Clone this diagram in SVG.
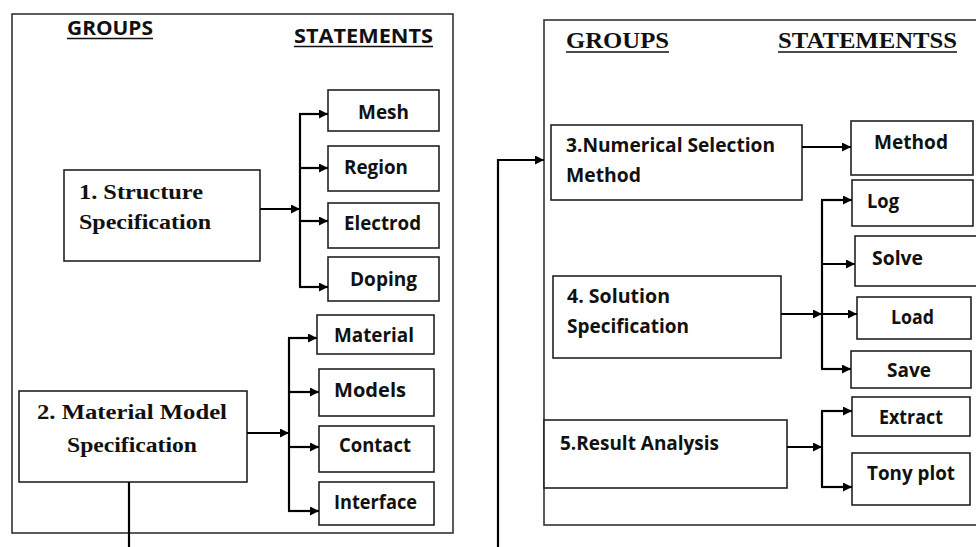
<svg xmlns="http://www.w3.org/2000/svg" width="976" height="547" viewBox="0 0 976 547">
<defs>
<marker id="ah" viewBox="0 0 10 10" refX="10" refY="5" markerWidth="11" markerHeight="9" markerUnits="userSpaceOnUse" orient="auto">
<path d="M0,0 L10,5 L0,10 z" fill="#000"/>
</marker>
<style>
.panel{fill:#fff;stroke:#333;stroke-width:1.6}
.box{fill:#fff;stroke:#222;stroke-width:1.6}
.c{fill:none;stroke:#000;stroke-width:2.2}
.ca{fill:none;stroke:#000;stroke-width:2.2;marker-end:url(#ah)}
.s{font-family:"Open Sans","Liberation Sans",sans-serif;font-weight:bold;font-size:20px;fill:#111}
.f{font-family:"Liberation Serif","DejaVu Serif",serif;font-weight:bold;fill:#111}
.ul{stroke:#111;stroke-width:1.6}
</style>
</defs>
<rect width="976" height="547" fill="#fff"/>
<g id="panel-left">
<rect class="panel" x="12" y="14" width="441" height="519"/>
<text class="s" x="67" y="35" font-size="18" textLength="86" lengthAdjust="spacingAndGlyphs">GROUPS</text>
<line class="ul" x1="67" y1="38.5" x2="153" y2="38.5"/>
<text class="s" x="294" y="43" font-size="18" textLength="139" lengthAdjust="spacingAndGlyphs">STATEMENTS</text>
<line class="ul" x1="294" y1="46.5" x2="433" y2="46.5"/>
</g>
<g id="panel-right">
<rect class="panel" x="544" y="20" width="440" height="505"/>
<text class="f" x="566" y="48" font-size="24" textLength="103" lengthAdjust="spacingAndGlyphs">GROUPS</text>
<line class="ul" x1="566" y1="52" x2="669" y2="52"/>
<text class="f" x="778" y="48" font-size="24" textLength="179" lengthAdjust="spacingAndGlyphs">STATEMENTSS</text>
<line class="ul" x1="778" y1="52" x2="957" y2="52"/>
</g>
<g id="structure">
<rect class="box" x="64" y="170" width="196" height="91"/>
<text class="f" x="79" y="199" font-size="22" textLength="124" lengthAdjust="spacingAndGlyphs">1. Structure</text>
<text class="f" x="79" y="229" font-size="22" textLength="132" lengthAdjust="spacingAndGlyphs">Specification</text>
</g>
<g id="mesh"><rect class="box" x="328" y="90" width="111" height="41"/><text class="s" x="358" y="119" textLength="51" lengthAdjust="spacingAndGlyphs">Mesh</text></g>
<g id="region"><rect class="box" x="328" y="146" width="111" height="45"/><text class="s" x="344" y="174" textLength="64" lengthAdjust="spacingAndGlyphs">Region</text></g>
<g id="electrod"><rect class="box" x="328" y="203" width="111" height="45"/><text class="s" x="344" y="230" textLength="77" lengthAdjust="spacingAndGlyphs">Electrod</text></g>
<g id="doping"><rect class="box" x="328" y="257" width="111" height="44"/><text class="s" x="350" y="286" textLength="67" lengthAdjust="spacingAndGlyphs">Doping</text></g>
<g id="material-model">
<rect class="box" x="19" y="391" width="228" height="91"/>
<text class="f" x="37" y="419" font-size="22" textLength="190" lengthAdjust="spacingAndGlyphs">2. Material Model</text>
<text class="f" x="67" y="452" font-size="22" textLength="130" lengthAdjust="spacingAndGlyphs">Specification</text>
</g>
<g id="material"><rect class="box" x="317" y="315" width="117" height="39"/><text class="s" x="334" y="342" textLength="80" lengthAdjust="spacingAndGlyphs">Material</text></g>
<g id="models"><rect class="box" x="319" y="369" width="115" height="47"/><text class="s" x="334" y="397" textLength="72" lengthAdjust="spacingAndGlyphs">Models</text></g>
<g id="contact"><rect class="box" x="319" y="426" width="115" height="46"/><text class="s" x="339" y="452" textLength="72" lengthAdjust="spacingAndGlyphs">Contact</text></g>
<g id="interface"><rect class="box" x="319" y="482" width="115" height="43"/><text class="s" x="334" y="509" textLength="83" lengthAdjust="spacingAndGlyphs">Interface</text></g>
<g id="numerical">
<rect class="box" x="551" y="125" width="251" height="75"/>
<text class="s" x="566" y="152" textLength="209" lengthAdjust="spacingAndGlyphs">3.Numerical Selection</text>
<text class="s" x="566" y="182" textLength="75" lengthAdjust="spacingAndGlyphs">Method</text>
</g>
<g id="method"><rect class="box" x="851" y="121" width="122" height="54"/><text class="s" x="874" y="149" textLength="74" lengthAdjust="spacingAndGlyphs">Method</text></g>
<g id="solution">
<rect class="box" x="553" y="276" width="228" height="82"/>
<text class="s" x="567" y="303" textLength="103" lengthAdjust="spacingAndGlyphs">4. Solution</text>
<text class="s" x="567" y="333" textLength="122" lengthAdjust="spacingAndGlyphs">Specification</text>
</g>
<g id="log"><rect class="box" x="852" y="180" width="121" height="46"/><text class="s" x="867" y="208" textLength="32" lengthAdjust="spacingAndGlyphs">Log</text></g>
<g id="solve"><rect class="box" x="855" y="236" width="130" height="50"/><text class="s" x="872" y="265" textLength="51" lengthAdjust="spacingAndGlyphs">Solve</text></g>
<g id="load"><rect class="box" x="857" y="297" width="114" height="42"/><text class="s" x="891" y="324" textLength="43" lengthAdjust="spacingAndGlyphs">Load</text></g>
<g id="save"><rect class="box" x="851" y="351" width="120" height="37"/><text class="s" x="887" y="377" textLength="44" lengthAdjust="spacingAndGlyphs">Save</text></g>
<g id="result">
<rect class="box" x="544" y="420" width="243" height="68"/>
<text class="s" x="560" y="450" textLength="159" lengthAdjust="spacingAndGlyphs">5.Result Analysis</text>
</g>
<g id="extract"><rect class="box" x="852" y="397" width="118" height="39"/><text class="s" x="879" y="424" textLength="64" lengthAdjust="spacingAndGlyphs">Extract</text></g>
<g id="tonyplot"><rect class="box" x="852" y="453" width="118" height="52"/><text class="s" x="867" y="480" textLength="88" lengthAdjust="spacingAndGlyphs">Tony plot</text></g>
<g id="connectors">
<line class="ca" x1="260" y1="209" x2="300" y2="209"/>
<path class="c" d="M300,114 V287"/>
<line class="ca" x1="299" y1="114" x2="328" y2="114"/>
<line class="ca" x1="300" y1="168" x2="328" y2="168"/>
<line class="ca" x1="300" y1="221" x2="328" y2="221"/>
<line class="ca" x1="299" y1="287" x2="328" y2="287"/>
<line class="ca" x1="247" y1="433" x2="289" y2="433"/>
<path class="c" d="M289,338 V511"/>
<line class="ca" x1="288" y1="338" x2="317" y2="338"/>
<line class="ca" x1="289" y1="392" x2="319" y2="392"/>
<line class="ca" x1="289" y1="447" x2="319" y2="447"/>
<line class="ca" x1="288" y1="511" x2="319" y2="511"/>
<line class="c" x1="129" y1="482" x2="129" y2="547"/>
<path class="ca" d="M498,547 V160 H544"/>
<line class="ca" x1="802" y1="147" x2="851" y2="147"/>
<path class="c" d="M822,200 V369"/>
<line class="ca" x1="781" y1="314" x2="822" y2="314"/>
<line class="ca" x1="821" y1="200" x2="852" y2="200"/>
<line class="ca" x1="822" y1="264" x2="855" y2="264"/>
<line class="ca" x1="822" y1="314" x2="857" y2="314"/>
<line class="ca" x1="821" y1="369" x2="851" y2="369"/>
<line class="ca" x1="787" y1="447" x2="822" y2="447"/>
<path class="c" d="M822,411 V487"/>
<line class="ca" x1="821" y1="411" x2="852" y2="411"/>
<line class="ca" x1="821" y1="487" x2="852" y2="487"/>
</g>
</svg>
